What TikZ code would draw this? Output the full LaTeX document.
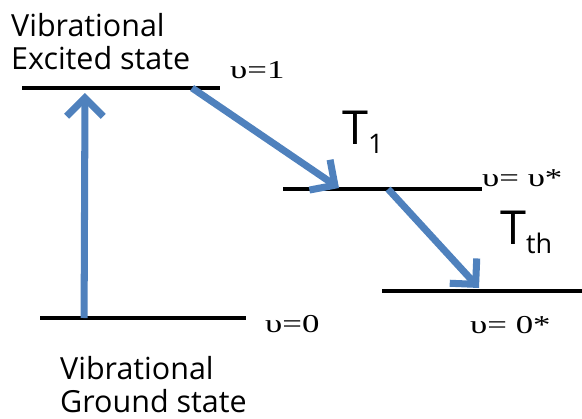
\documentclass[tikz,border=0pt]{standalone}
\usepackage{fontspec}
\setmainfont{Open Sans}
\newfontfamily\quantfont[FakeStretch=1.35]{Liberation Serif}
\usetikzlibrary{arrows.meta,positioning,calc}
\definecolor{transblue}{RGB}{79, 129, 189}
\newcommand{\ratesub}[1]{\raisebox{-8pt}{\fontsize{23}{24}\selectfont #1}}
\tikzset{
    level/.style={line width=4pt, draw=black},
    trans/.style={line width=6pt, draw=transblue, -{Straight Barb[length=5.5mm, width=11mm]}},
    statetext/.style={align=left, inner sep=0pt, font=\fontsize{26}{28}\selectfont},
    qnum/.style={inner sep=0pt, font=\quantfont\fontsize{22}{24}\selectfont},
    rate/.style={inner sep=0pt, font=\fontsize{40}{42}\selectfont}
}

\begin{document}
\begin{tikzpicture}[x=0.03cm, y=-0.03cm]
        \useasboundingbox (0,0) rectangle (582,419);

        % energy levels
        \coordinate (exL) at (22,88);   \coordinate (exR) at (220,88);
        \coordinate (miL) at (283,189); \coordinate (miR) at (482,189);
        \coordinate (loL) at (382,291); \coordinate (loR) at (582,291);
        \coordinate (grL) at (40,318);  \coordinate (grR) at (246,318);
        \draw [level] (exL) -- (exR);
        \draw [level] (miL) -- (miR);
        \draw [level] (loL) -- (loR);
        \draw [level] (grL) -- (grR);

        % labels
        \node (exc) [statetext, anchor=north west] at (11,13) {Vibrational\\Excited state};
        \node (gnd) [statetext, anchor=north west] at (60,356) {Vibrational\\Ground state};
        \node (v1) [qnum, anchor=base west] at (230,78) {υ=1};
        \node (vst) [qnum, anchor=base west] at (482,186) {υ= υ*};
        \node (v0) [qnum, anchor=base west] at (265,332) {υ=0};
        \node (v0st) [qnum, anchor=base west] at (470,333) {υ= 0*};
        \node (t1) [rate, anchor=base west] at (342,144) {T\ratesub{1}};
        \node (tth) [rate, anchor=base west] at (500,244) {T\ratesub{th}};

        % transitions
        \coordinate (up0) at ($(grL)!0.214!(grR)$);
        \coordinate (up1) at (85,93);
        \coordinate (a1s) at ($(exL)!0.859!(exR)$);
        \coordinate (a1e) at (339,188);
        \coordinate (a2s) at ($(miL)!0.528!(miR)$);
        \coordinate (a2e) at (479,288);
        \draw [trans] (up0) -- (up1);
        \draw [trans] (a1s) -- (a1e);
        \draw [trans] (a2s) -- (a2e);
    \end{tikzpicture}
\end{document}
